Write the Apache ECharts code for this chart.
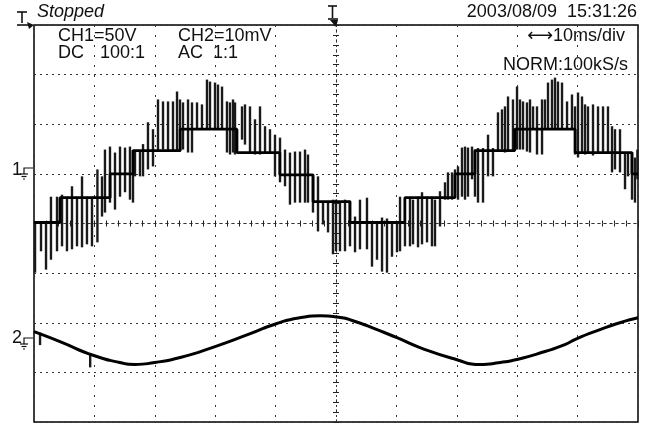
<!DOCTYPE html>
<html>
<head>
<meta charset="utf-8">
<script src="https://cdn.jsdelivr.net/npm/echarts@6/dist/echarts.min.js"></script>
<style>
html,body{margin:0;padding:0;background:#fff;}
#myChart{width:649px;height:425px;}
</style>
</head>
<body>
<div id="myChart"></div>
<script>
// screen = 10 div x 10ms/div, 8 div vertical
// times are ms from the left edge of the screen, values in divisions from centre
var TRIG_MS = 50;

// CH1 step levels: [start ms, level]
var ch1Steps = [
	[0, 0.02], [4.3, 0.52], [12.6, 1.0], [16.4, 1.47], [24.2, 1.9], [33.6, 1.43],
	[40.7, 0.98], [46.2, 0.44], [52.3, 0.02], [61.4, 0.52], [69.7, 1.0], [73.0, 1.47],
	[79.6, 1.9], [89.6, 1.43], [99.0, 1.0], [100, 1.0]
];

// CH1 switching spikes: [ms, low, high]
var ch1Spikes = [
	[0.17,-0.99,0.02],[1.16,-0.56,0.02],[1.99,-0.93,0.02],[2.81,-0.73,0.54],[3.81,-0.56,0.54],
	[4.64,-0.46,0.58],[5.46,-0.56,0.54],[6.29,-0.52,0.75],[7.12,-0.46,0.54],[7.95,-0.48,0.95],
	[8.77,-0.42,0.54],[9.60,-0.46,0.54],[10.5,-0.38,1.09],[11.26,0.14,0.95],[11.75,0.22,1.49],
	[12.58,0.42,1.55],[13.41,0.28,1.43],[14.24,0.54,1.55],[15.07,0.63,1.53],[15.89,0.48,1.55],
	[16.39,0.42,1.47],[16.72,0.95,1.47],[17.55,0.95,1.47],[18.05,0.95,1.6],[18.87,1.09,2.04],
	[19.70,1.15,1.90],[20.53,1.47,2.50],[21.36,1.49,2.46],[22.19,1.47,2.46],[23.01,1.47,2.46],
	[23.68,1.47,2.66],[24.17,1.45,2.50],[24.67,1.49,2.44],[25.50,1.43,2.50],[26.16,1.43,2.44],
	[26.99,1.9,2.44],[27.81,1.9,2.40],[28.64,1.9,2.90],[29.14,1.9,2.86],[29.97,1.9,2.84],
	[30.46,1.9,2.80],[31.13,1.9,2.76],[31.95,1.43,2.46],[32.45,1.39,2.44],[32.95,1.43,2.50],
	[33.28,1.39,2.44],[34.44,1.69,2.36],[34.93,1.59,2.40],[35.76,1.43,2.36],[36.59,1.39,2.10],
	[37.42,1.39,2.36],[38.25,1.43,1.96],[39.07,1.43,1.90],[39.90,0.95,1.79],[40.73,0.83,1.73],
	[41.56,0.75,1.49],[42.38,0.38,1.43],[43.21,0.42,1.45],[44.04,0.42,1.45],[44.87,0.42,1.49],
	[45.36,0.42,1.39],[46.19,0.22,0.95],[47.02,-0.16,0.95],[47.85,-0.02,0.42],[48.68,-0.18,0.42],
	[49.50,-0.62,0.48],[50.0,-0.56,0.48],[50.66,-0.56,0.44],[51.49,-0.56,0.48],[52.32,-0.46,0.46],
	[53.15,-0.58,0.14],[53.97,-0.52,0.48],[55.13,-0.52,0.52],[55.96,-0.87,0.02],[56.79,-0.73,0.02],
	[57.62,-0.97,0.12],[58.44,-0.99,0.10],[59.27,-0.67,0.02],[60.10,-0.58,0.02],[60.60,-0.56,0.54],
	[61.42,-0.46,0.02],[62.25,-0.46,0.52],[62.75,-0.42,0.48],[63.58,-0.48,0.54],[64.24,-0.42,0.63],
	[65.07,-0.38,0.54],[65.89,-0.46,0.54],[66.39,-0.46,0.48],[67.22,-0.06,0.65],[68.05,0.48,0.83],
	[68.54,0.48,1.03],[69.21,0.48,1.03],[69.70,0.54,1.09],[70.20,0.48,1.15],[70.86,0.54,1.53],
	[71.36,0.48,1.55],[71.85,0.54,1.53],[72.52,0.89,1.55],[73.01,0.54,1.49],[73.51,0.42,1.52],
	[74.34,0.42,1.52],[75.17,0.95,1.79],[75.99,0.95,1.52],[76.82,1.45,2.24],[77.48,1.49,2.30],
	[77.98,1.43,2.36],[78.48,1.45,2.56],[79.30,1.45,2.50],[79.97,1.49,2.76],[80.46,1.49,2.50],
	[80.96,1.49,2.46],[81.62,1.45,2.44],[82.12,1.43,2.50],[82.62,1.9,2.36],[83.28,1.39,2.36],
	[84.11,1.39,2.50],[84.60,1.9,2.50],[85.10,1.9,2.84],[85.76,1.9,2.90],[86.26,1.9,2.94],
	[86.75,1.9,2.86],[87.42,1.9,2.84],[88.25,1.9,2.46],[89.07,1.9,2.60],[89.57,1.39,2.36],
	[90.07,1.33,2.64],[90.73,1.43,2.56],[91.23,1.39,2.40],[91.72,1.43,2.36],[92.55,1.37,2.40],
	[93.38,1.43,2.36],[94.21,1.43,2.36],[95.03,1.43,2.36],[95.70,1.03,1.96],[96.19,1.09,1.90],
	[97.02,1.03,1.90],[97.85,0.69,1.43],[98.34,0.95,1.43],[99.01,0.48,1.43],[99.50,0.42,1.33],
	[99.9,0.89,1.49]
];

// CH2 trace: [ms, div]
var ch2Trace = [
	[0,-2.18],[4.3,-2.38],[9.9,-2.66],[14.2,-2.80],[16.7,-2.84],[20.0,-2.80],[24.2,-2.70],
	[29.97,-2.48],[35.8,-2.22],[40.1,-2.02],[44.0,-1.90],[47.4,-1.86],[50.5,-1.89],[53.3,-1.98],
	[56.8,-2.14],[60.1,-2.30],[63.9,-2.50],[69.9,-2.74],[73.8,-2.84],[77.2,-2.80],[79.97,-2.74],
	[84.6,-2.58],[87.9,-2.44],[89.9,-2.32],[93.7,-2.14],[97.0,-2.00],[100,-1.90]
];
var ch2Spikes = [[1.0,-2.45,-2.2],[9.3,-2.9,-2.64]];

var myChart = echarts.init(document.getElementById('myChart'));

function shift(arr){
	return arr.map(function(p){ var q = p.slice(); q[0] = p[0] - TRIG_MS; return q; });
}

function spikeItem(params, api){
	var a = api.coord([api.value(0), api.value(1)]);
	var b = api.coord([api.value(0), api.value(2)]);
	return {
		type: 'line',
		shape: {x1: a[0], y1: a[1], x2: b[0], y2: b[1]},
		style: {stroke: '#1a1a1a', lineWidth: 2.4}
	};
}

var dotColor = '#333';
var font = '"Liberation Sans", Arial, "DejaVu Sans", sans-serif';
var txt = '18px ' + font;

// centre axis with ticks (one inside, one outside to get a cross)
function centreX(inside){
	return {
		type: 'value', min: -50, max: 50, interval: 10,
		axisLine: {show: true, onZero: true, onZeroAxisIndex: 0, lineStyle: {color: dotColor, width: 1, type: [2, 4]}},
		axisTick: {show: true, inside: inside, length: 3, lineStyle: {color: '#222', width: 1}},
		minorTick: {show: true, splitNumber: 5, length: 3, lineStyle: {color: '#222', width: 1}},
		axisLabel: {show: false}, splitLine: {show: false}
	};
}
function centreY(inside){
	return {
		type: 'value', min: -4, max: 4, interval: 1,
		axisLine: {show: true, onZero: true, onZeroAxisIndex: 0, lineStyle: {color: dotColor, width: 1, type: [2, 8]}},
		axisTick: {show: true, inside: inside, length: 3, lineStyle: {color: '#222', width: 1}},
		minorTick: {show: true, splitNumber: 5, length: 3, lineStyle: {color: '#222', width: 1}},
		axisLabel: {show: false}, splitLine: {show: false}
	};
}

var option = {
	animation: false,
	backgroundColor: '#fff',
	grid: {
		left: 34, top: 25, right: 11, bottom: 3,
		show: true, borderColor: '#000', borderWidth: 1.5, backgroundColor: '#fff'
	},
	xAxis: [
		{
			type: 'value', min: -50, max: 50, interval: 10,
			axisLine: {show: false}, axisTick: {show: false}, axisLabel: {show: false},
			splitLine: {show: true, lineStyle: {color: dotColor, width: 1, type: [2, 8]}}
		},
		centreX(true), centreX(false)
	],
	yAxis: [
		{
			type: 'value', min: -4, max: 4, interval: 1,
			axisLine: {show: false}, axisTick: {show: false}, axisLabel: {show: false},
			splitLine: {show: true, lineStyle: {color: dotColor, width: 1, type: [2, 4]}}
		},
		centreY(true), centreY(false)
	],
	series: [
		{
			name: 'CH1 spikes', type: 'custom', renderItem: spikeItem,
			data: shift(ch1Spikes), encode: {x: 0, y: [1, 2]}, silent: true, z: 3
		},
		{
			name: 'CH1', type: 'line', step: 'end', data: shift(ch1Steps),
			showSymbol: false, lineStyle: {color: '#000', width: 2.8}, silent: true, z: 4
		},
		{
			name: 'CH2 spikes', type: 'custom', renderItem: spikeItem,
			data: shift(ch2Spikes), encode: {x: 0, y: [1, 2]}, silent: true, z: 3
		},
		{
			name: 'CH2', type: 'line', smooth: 0.6, data: shift(ch2Trace),
			showSymbol: false, lineStyle: {color: '#000', width: 3}, silent: true, z: 4
		}
	],
	graphic: [
		{type: 'text', left: 37, top: 3, style: {text: 'Stopped', font: 'italic ' + txt, fill: '#111'}},
		{type: 'text', right: 12, top: 3, style: {text: '2003/08/09  15:31:26', font: txt, fill: '#111'}},
		{type: 'text', left: 58, top: 27, style: {text: 'CH1=50V', font: txt, fill: '#111'}},
		{type: 'text', left: 58, top: 44, style: {text: 'DC', font: txt, fill: '#111'}},
		{type: 'text', left: 100, top: 44, style: {text: '100:1', font: txt, fill: '#111'}},
		{type: 'text', left: 178, top: 27, style: {text: 'CH2=10mV', font: txt, fill: '#111'}},
		{type: 'text', left: 178, top: 44, style: {text: 'AC', font: txt, fill: '#111'}},
		{type: 'text', left: 213, top: 44, style: {text: '1:1', font: txt, fill: '#111'}},
		{type: 'text', right: 24, top: 27, style: {text: '\u27F710ms/div', font: txt, fill: '#111'}},
		{type: 'text', right: 21, top: 56, style: {text: 'NORM:100kS/s', font: txt, fill: '#111'}},
		// channel ground markers
		{type: 'text', left: 12, top: 161, style: {text: '1', font: txt, fill: '#111'}},
		{type: 'polyline', shape: {points: [[33, 168], [24, 168], [24, 174]]}, style: {stroke: '#111', lineWidth: 1.2, fill: null}},
		{type: 'line', shape: {x1: 20, y1: 174, x2: 28, y2: 174}, style: {stroke: '#111', lineWidth: 1.2}},
		{type: 'line', shape: {x1: 21.5, y1: 176.5, x2: 26.5, y2: 176.5}, style: {stroke: '#111', lineWidth: 1.2}},
		{type: 'line', shape: {x1: 23, y1: 179, x2: 25, y2: 179}, style: {stroke: '#111', lineWidth: 1.2}},
		{type: 'text', left: 12, top: 329, style: {text: '2', font: txt, fill: '#111'}},
		{type: 'polyline', shape: {points: [[33, 338], [24, 338], [24, 344]]}, style: {stroke: '#111', lineWidth: 1.2, fill: null}},
		{type: 'line', shape: {x1: 20, y1: 344, x2: 28, y2: 344}, style: {stroke: '#111', lineWidth: 1.2}},
		{type: 'line', shape: {x1: 21.5, y1: 346.5, x2: 26.5, y2: 346.5}, style: {stroke: '#111', lineWidth: 1.2}},
		{type: 'line', shape: {x1: 23, y1: 349, x2: 25, y2: 349}, style: {stroke: '#111', lineWidth: 1.2}},
		// trigger markers
		{type: 'line', shape: {x1: 17, y1: 12, x2: 27, y2: 12}, style: {stroke: '#111', lineWidth: 1.6}},
		{type: 'line', shape: {x1: 22, y1: 12, x2: 22, y2: 23}, style: {stroke: '#111', lineWidth: 1.6}},
		{type: 'line', shape: {x1: 17, y1: 25, x2: 30, y2: 25}, style: {stroke: '#111', lineWidth: 1.6}},
		{type: 'polygon', shape: {points: [[27, 22], [34, 25], [29, 29]]}, style: {fill: '#111'}},
		{type: 'line', shape: {x1: 328, y1: 6, x2: 337, y2: 6}, style: {stroke: '#111', lineWidth: 1.6}},
		{type: 'line', shape: {x1: 332.5, y1: 6, x2: 332.5, y2: 18}, style: {stroke: '#111', lineWidth: 1.6}},
		{type: 'line', shape: {x1: 328, y1: 19, x2: 338, y2: 19}, style: {stroke: '#111', lineWidth: 1.6}},
		{type: 'polygon', shape: {points: [[330, 20], [338, 20], [336, 27]]}, style: {fill: '#111'}}
	]
};
myChart.setOption(option);
</script>
</body>
</html>
